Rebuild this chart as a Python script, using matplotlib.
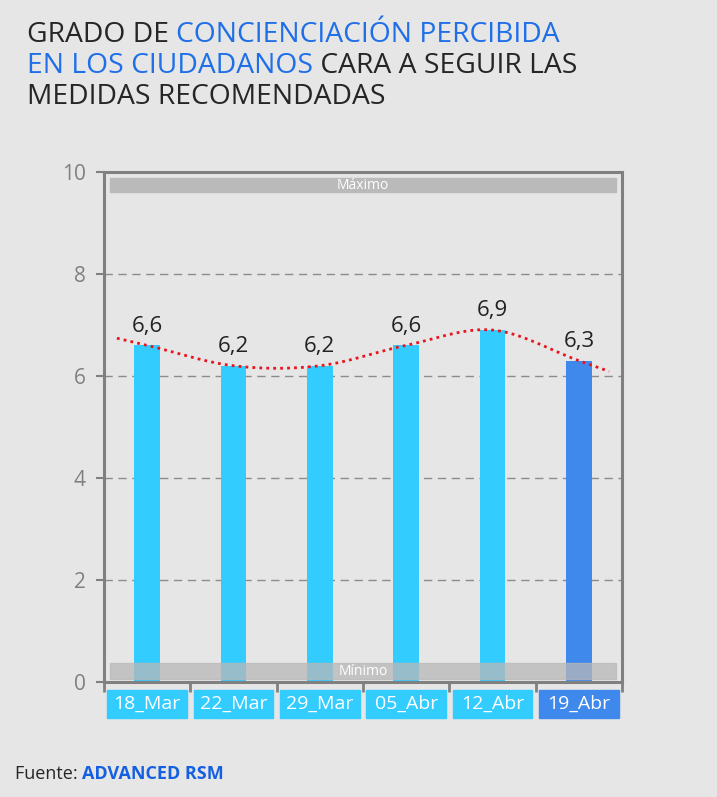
import numpy as np
import matplotlib
matplotlib.use("Agg")
import matplotlib.pyplot as plt
from matplotlib.patches import Rectangle
import matplotlib.transforms as mtransforms

plt.rcParams['font.family'] = ['Open Sans', 'DejaVu Sans']

# data
fechas = ['18_Mar', '22_Mar', '29_Mar', '05_Abr', '12_Abr', '19_Abr']
valores = [6.6, 6.2, 6.2, 6.6, 6.9, 6.3]
etiquetas = ['6,6', '6,2', '6,2', '6,6', '6,9', '6,3']
y_ticks = [0, 2, 4, 6, 8, 10]

BG = '#e6e6e6'
CELESTE = '#33ccff'
AZUL = '#3f88ec'
AZUL_TXT = '#1f6fe8'
GRIS = '#808080'


def curva_suave(xs, ys, ext=0.35, n=30):
    # smoothed line through the points (Catmull-Rom), extended a bit at both ends
    ys = np.asarray(ys, float)
    m = np.gradient(ys)
    px, py = [xs[0] - ext], [ys[0] - m[0] * ext]
    for i in range(len(xs) - 1):
        t = np.linspace(0, 1, n)
        h00 = 2 * t**3 - 3 * t**2 + 1
        h10 = t**3 - 2 * t**2 + t
        h01 = -2 * t**3 + 3 * t**2
        h11 = t**3 - t**2
        px.extend(xs[i] + t)
        py.extend(h00 * ys[i] + h10 * m[i] + h01 * ys[i + 1] + h11 * m[i + 1])
    px.append(xs[-1] + ext)
    py.append(ys[-1] + m[-1] * ext)
    return np.array(px), np.array(py)


fig = plt.figure(figsize=(7.17, 7.97), dpi=100, facecolor=BG)
ax = fig.add_axes([0.145, 0.1443, 0.7225, 0.64])
ax.set_facecolor(BG)

x = np.arange(len(fechas))
colores = [CELESTE] * (len(fechas) - 1) + [AZUL]
ax.bar(x, valores, width=0.3, color=colores, zorder=2)

xt, yt = curva_suave(x, valores)
ax.plot(xt, yt, color='#e8141e', lw=2, ls=(0, (1, 1.5)), zorder=3)

for xi, v, t in zip(x, valores, etiquetas):
    ax.text(xi, v + 0.17, t, ha='center', va='bottom', fontsize=16, color='#222222', zorder=4)

# reference bands
ax.add_patch(Rectangle((-0.43, 9.6), 5.86, 0.28, color='#bababa', zorder=1))
ax.text(2.5, 9.74, 'Máximo', ha='center', va='center', fontsize=10, color='white', zorder=2)
ax.add_patch(Rectangle((-0.43, 0.06), 5.86, 0.31, color='#b8b8b8', alpha=0.75, zorder=3))
ax.text(2.5, 0.215, 'Mínimo', ha='center', va='center', fontsize=10, color='white', zorder=4)

ax.set_xlim(-0.5, 5.5)
ax.set_ylim(0, 10)
ax.set_yticks(y_ticks)
ax.set_yticklabels([str(t) for t in y_ticks], fontsize=15, color=GRIS)
ax.tick_params(axis='y', length=6, width=1.5, color=GRIS, pad=7)
for t in [2, 4, 6, 8]:
    ax.axhline(t, color='#8c8c8c', lw=1, ls=(0, (6, 4)), zorder=0)

ax.set_xticks(np.arange(-0.5, 6, 1))
ax.set_xticklabels([])
ax.tick_params(axis='x', length=7, width=2, color=GRIS, direction='out')
for s in ax.spines.values():
    s.set_color(GRIS)
    s.set_linewidth(2.2)

# category label boxes under the axis
trans = mtransforms.blended_transform_factory(ax.transData, ax.transAxes)
for xi, f, c in zip(x, fechas, colores):
    ax.add_patch(Rectangle((xi - 0.46, -0.071), 0.92, 0.055, color=c,
                           transform=trans, clip_on=False))
    ax.text(xi, -0.0435, f, ha='center', va='center', fontsize=14, color='white',
            transform=trans)

# title with mixed colours
titulo = [
    [('GRADO DE ', '#262626'), ('CONCIENCIACIÓN PERCIBIDA', AZUL_TXT)],
    [('EN LOS CIUDADANOS', AZUL_TXT), (' CARA A SEGUIR LAS', '#262626')],
    [('MEDIDAS RECOMENDADAS', '#262626')],
]
fig.canvas.draw()
renderer = fig.canvas.get_renderer()
y0 = 1 - 35 / 797
for linea in titulo:
    xp = 27 / 717
    for txt, col in linea:
        t = fig.text(xp, y0, txt, fontsize=20.3, color=col, va='center', ha='left')
        bb = t.get_window_extent(renderer)
        xp += bb.width / fig.bbox.width
    y0 -= 31 / 797

t = fig.text(15 / 717, 1 - 774 / 797, 'Fuente: ', fontsize=13, color='#262626', va='center')
bb = t.get_window_extent(renderer)
fig.text(15 / 717 + bb.width / fig.bbox.width, 1 - 774 / 797, 'ADVANCED RSM',
         fontsize=13, color='#1560e0', fontweight='bold', va='center')

fig.savefig('out.png', dpi=100, facecolor=BG)
